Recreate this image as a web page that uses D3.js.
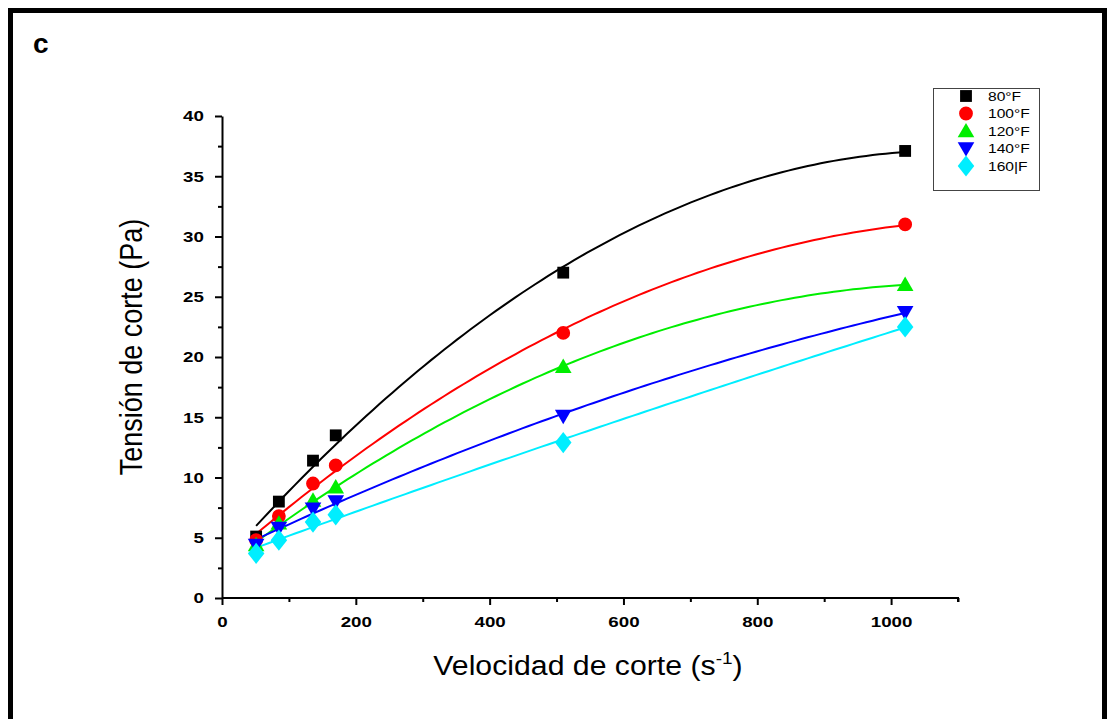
<!DOCTYPE html>
<html><head><meta charset="utf-8">
<script src="https://cdn.jsdelivr.net/npm/d3@7"></script>
<style>body{margin:0;background:#fff}svg{display:block}text{font-family:Arial,"Liberation Sans",sans-serif}</style>
</head><body>
<svg id="c" width="1109" height="719"></svg>
<script>
const shearRates = [51, 85, 136, 170, 510, 1021];
const seriesNames = ["80°F", "100°F", "120°F", "140°F", "160|F"];
const s80  = [5.1, 8.0, 11.4, 13.5, 27.0, 37.1];
const s100 = [4.8, 6.8, 9.5, 11.0, 22.0, 31.0];
const s120 = [4.4, 6.2, 8.1, 9.2, 19.2, 26.0];
const s140 = [4.4, 5.8, 7.4, 8.0, 15.1, 23.7];
const s160 = [3.7, 4.8, 6.3, 6.9, 12.9, 22.5];
const colors = ["#000000", "#ff0000", "#00ee00", "#0000ff", "#00eeff"];
const symbols = ["square", "circle", "triangle", "triangleDown", "diamond"];
const xTicks = [0, 200, 400, 600, 800, 1000];
const yTicks = [0, 5, 10, 15, 20, 25, 30, 35, 40];

const series = [s80, s100, s120, s140, s160];
const svg = d3.select("#c");

// outer frame
svg.append("rect").attr("x", 10.5).attr("y", 10.5).attr("width", 1094).attr("height", 730)
  .attr("fill", "none").attr("stroke", "#000").attr("stroke-width", 5);
svg.append("text").attr("x", 33).attr("y", 53).attr("font-size", 28).attr("font-weight", "bold").text("c");

const x = d3.scaleLinear().domain([0, 1100]).range([222, 958]);
const y = d3.scaleLinear().domain([0, 40]).range([598, 116]);

// axes
const xAxis = d3.axisBottom(x).tickValues(d3.range(0, 1101, 100)).tickSize(6).tickSizeOuter(0)
  .tickFormat(d => xTicks.includes(d) ? d : "");
const gx = svg.append("g").attr("transform", "translate(0,598)").call(xAxis);
gx.select(".domain").attr("stroke-width", 2);
gx.selectAll(".tick line").attr("stroke-width", 2).attr("y2", d => xTicks.includes(d) ? 7 : 4);
gx.selectAll(".tick text").attr("font-size", 15).attr("font-weight", "bold").attr("y", 29).attr("dy", null)
  .attr("transform", "scale(1.25,1)").attr("font-family", "Arial, 'Liberation Sans', sans-serif");
gx.select(".domain").attr("d", `M${x(0)},0H${x(1100)}V4`);

const yAxis = d3.axisLeft(y).tickValues(d3.range(0, 40.1, 2.5)).tickSize(6).tickSizeOuter(0)
  .tickFormat(d => yTicks.includes(d) ? d : "");
const gy = svg.append("g").attr("transform", "translate(222,0)").call(yAxis);
gy.select(".domain").attr("stroke-width", 2);
gy.selectAll(".tick line").attr("stroke-width", 2).attr("x2", d => yTicks.includes(d) ? -7 : -4);
gy.selectAll(".tick text").attr("font-size", 15).attr("font-weight", "bold").attr("x", -14.5)
  .attr("transform", "scale(1.25,1)").attr("font-family", "Arial, 'Liberation Sans', sans-serif");

// axis titles
svg.append("text").attr("transform", "translate(142,347) scale(1.15,1) rotate(-90)").attr("text-anchor", "middle")
  .attr("font-size", 27).text("Tensión de corte (Pa)");
const xt = svg.append("text").attr("transform", "translate(588,675) scale(1.12,1)").attr("text-anchor", "middle").attr("font-size", 27);
xt.append("tspan").text("Velocidad de corte (s");
xt.append("tspan").attr("font-size", 17).attr("dy", -11).text("-1");
xt.append("tspan").attr("dy", 11).text(")");

// quadratic least squares fit
function quadFit(xs, ys) {
  let S = Array.from({length: 5}, () => 0), T = [0, 0, 0];
  xs.forEach((xi, i) => {
    for (let k = 0; k < 5; k++) S[k] += Math.pow(xi, k);
    for (let k = 0; k < 3; k++) T[k] += ys[i] * Math.pow(xi, k);
  });
  const A = [[S[0], S[1], S[2], T[0]], [S[1], S[2], S[3], T[1]], [S[2], S[3], S[4], T[2]]];
  for (let i = 0; i < 3; i++) {
    let p = i;
    for (let r = i + 1; r < 3; r++) if (Math.abs(A[r][i]) > Math.abs(A[p][i])) p = r;
    [A[i], A[p]] = [A[p], A[i]];
    for (let r = 0; r < 3; r++) if (r !== i) {
      const f = A[r][i] / A[i][i];
      for (let c = i; c < 4; c++) A[r][c] -= f * A[i][c];
    }
  }
  const c = A.map((row, i) => row[3] / row[i]);
  return t => c[0] + c[1] * t + c[2] * t * t;
}

const symMap = {
  square: d3.symbolSquare, circle: d3.symbolCircle, triangle: d3.symbolTriangle,
  triangleDown: d3.symbolTriangle, diamond: d3.symbolDiamond
};
const symSize = {square: 140, circle: 150, triangle: 120, triangleDown: 120, diamond: 130};
function drawSym(g, type, cx, cy, color) {
  const rot = type === "triangleDown" ? 180 : 0;
  const dy = type === "triangle" ? 1.5 : (type === "triangleDown" ? -1.5 : 0);
  const sx = type === "diamond" ? 1.35 : 1;
  g.append("path").attr("d", d3.symbol(symMap[type], symSize[type])())
    .attr("transform", `translate(${cx},${cy + dy}) scale(${sx},1) rotate(${rot})`)
    .attr("fill", color);
}

const line = d3.line().x(d => x(d[0])).y(d => y(d[1])).curve(d3.curveLinear);
series.forEach((ys, si) => {
  const f = quadFit(shearRates, ys);
  const pts = d3.range(0, 101).map(i => {
    const t = shearRates[0] + (shearRates[shearRates.length - 1] - shearRates[0]) * i / 100;
    return [t, f(t)];
  });
  svg.append("path").attr("d", line(pts)).attr("fill", "none").attr("stroke", colors[si]).attr("stroke-width", 2);
});
series.forEach((ys, si) => {
  const g = svg.append("g");
  ys.forEach((v, i) => drawSym(g, symbols[si], x(shearRates[i]), y(v), colors[si]));
});

// legend
const lg = svg.append("g");
lg.append("rect").attr("x", 933.5).attr("y", 88.5).attr("width", 106).attr("height", 102)
  .attr("fill", "#fff").attr("stroke", "#444").attr("stroke-width", 1);
seriesNames.forEach((n, i) => {
  const cy = 96 + i * 17.5;
  drawSym(lg, symbols[i], 966, cy, colors[i]);
  lg.append("text").attr("transform", `translate(988,${cy}) scale(1.2,1)`).attr("dy", "0.36em").attr("font-size", 13).text(n);
});
</script>
</body></html>
